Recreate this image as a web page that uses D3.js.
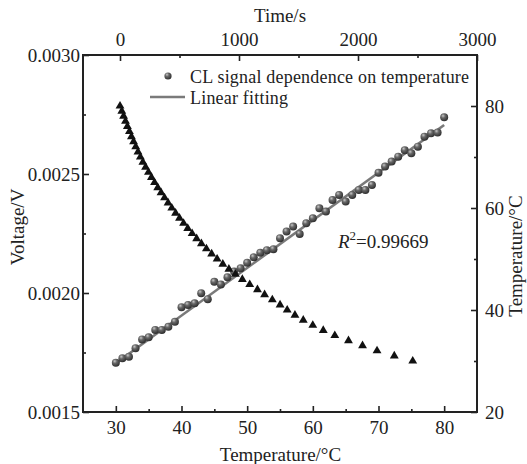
<!DOCTYPE html>
<html>
<head>
<meta charset="utf-8">
<script src="https://cdn.jsdelivr.net/npm/d3@7"></script>
<style>
  html, body { margin: 0; padding: 0; background: #fff; }
  svg text { font-family: "Liberation Serif", "Times New Roman", serif; fill: #222; }
</style>
</head>
<body>
<div id="chart"></div>
<script>
// ---- Data ----
// CL signal (Voltage, V) vs Temperature (°C)
const clTemp = [30,31,32,33,34,35,36,37,38,39,40,41,42,43,44,45,46,47,48,49,50,
                51,52,53,54,55,56,57,58,59,60,61,62,63,64,65,66,67,68,69,70,
                71,72,73,74,75,76,77,78,79,80];
const clVoltage = [0.001707,0.001726,0.001732,0.001768,0.001805,0.001814,0.001845,0.001845,0.001858,0.001879,
                   0.001940,0.001950,0.001957,0.001999,0.001974,0.002047,0.002036,0.002066,0.002090,0.002104,
                   0.002127,0.002150,0.002169,0.002180,0.002184,0.002230,0.002258,0.002279,0.002248,0.002293,
                   0.002314,0.002356,0.002342,0.002391,0.002412,0.002384,0.002412,0.002433,0.002433,0.002454,
                   0.002505,0.002531,0.002552,0.002573,0.002600,0.002587,0.002615,0.002657,0.002671,0.002674,
                   0.002738];
// Linear fitting endpoints
const fitTemp = [30, 80];
const fitVoltage = [0.001705, 0.002706];
// Cooling curve: Temperature (°C, right axis) vs Time (s, top axis)
const coolTemp = [80,79,78,77,76,75,74,73,72,71,70,69,68,67,66,65,64,63,62,61,60,
                  59,58,57,56,55,54,53,52,51,50,49,48,47,46,45,44,43,42,41,40,
                  39,38,37,36,35,34,33,32,31,30];
const coolTime = [0,15,30,46,62,79,96,114,132,151,171,192,215,239,264,290,317,345,374,404,435,
                  467,500,534,569,606,644,684,726,770,816,864,915,970,1028,1090,1155,1215,1280,1345,1405,
                  1470,1540,1620,1708,1805,1920,2038,2160,2305,2460];
// Ticks
const bottomTicks = [30,40,50,60,70,80];
const bottomMinor = [35,45,55,65,75];
const topTicks = [0,1000,2000,3000];
const topMinor = [500,1500,2500];
const leftTicks = [0.0015,0.0020,0.0025,0.0030];
const leftMinor = [0.00175,0.00225,0.00275];
const rightTicks = [20,40,60,80];
const rightMinor = [30,50,70];
const legendLabels = ["CL signal dependence on temperature", "Linear fitting"];

// ---- Layout ----
const W = 527, H = 464;
const L = 83, R = 477, T = 55, B = 412;

const svg = d3.select("#chart").append("svg").attr("width", W).attr("height", H);

const xT = d3.scaleLinear().domain([25, 85]).range([L, R]);
const xTime = d3.scaleLinear().domain([-311, 3000]).range([L, R]);
const yV = d3.scaleLinear().domain([0.0015, 0.0030]).range([B, T]);
const yR = d3.scaleLinear().domain([20, 90]).range([B, T]);

const defs = svg.append("defs");
const grad = defs.append("radialGradient").attr("id", "ball").attr("cx", "40%").attr("cy", "35%").attr("r", "65%").attr("fx", "35%").attr("fy", "30%");
grad.append("stop").attr("offset", "0%").attr("stop-color", "#c8c8c8");
grad.append("stop").attr("offset", "40%").attr("stop-color", "#686868");
grad.append("stop").attr("offset", "100%").attr("stop-color", "#2e2e2e");

const fs = 19;
const axisColor = "#222";

function styleAxis(g) {
  g.select(".domain").remove();
  g.selectAll(".tick line").attr("stroke", axisColor).attr("stroke-width", 1.6);
  g.selectAll(".tick text").style("font-size", fs + "px").attr("fill", "#222");
}

// Bottom axis (ticks inward)
const gB = svg.append("g").attr("transform", `translate(0,${B})`)
  .call(d3.axisBottom(xT).tickValues(bottomTicks).tickSize(-6).tickFormat(d3.format("d")));
styleAxis(gB);
gB.selectAll(".tick text").attr("y", 9).attr("dy", "0.71em");
svg.append("g").attr("transform", `translate(0,${B})`)
  .call(d3.axisBottom(xT).tickValues(bottomMinor).tickSize(-3).tickFormat(""))
  .call(styleAxis);

// Top axis (time)
const gTop = svg.append("g").attr("transform", `translate(0,${T})`)
  .call(d3.axisTop(xTime).tickValues(topTicks).tickSize(-6).tickFormat(d3.format("d")));
styleAxis(gTop);
gTop.selectAll(".tick text").attr("y", -9);
svg.append("g").attr("transform", `translate(0,${T})`)
  .call(d3.axisTop(xTime).tickValues(topMinor).tickSize(-3).tickFormat(""))
  .call(styleAxis);

// Left axis
const gL = svg.append("g").attr("transform", `translate(${L},0)`)
  .call(d3.axisLeft(yV).tickValues(leftTicks).tickSize(-6).tickFormat(d3.format(".4f")));
styleAxis(gL);
gL.selectAll(".tick text").attr("x", -3);
svg.append("g").attr("transform", `translate(${L},0)`)
  .call(d3.axisLeft(yV).tickValues(leftMinor).tickSize(-3).tickFormat(""))
  .call(styleAxis);

// Right axis
const gR = svg.append("g").attr("transform", `translate(${R},0)`)
  .call(d3.axisRight(yR).tickValues(rightTicks).tickSize(-6).tickFormat(d3.format("d")));
styleAxis(gR);
gR.selectAll(".tick text").attr("x", 8);
svg.append("g").attr("transform", `translate(${R},0)`)
  .call(d3.axisRight(yR).tickValues(rightMinor).tickSize(-3).tickFormat(""))
  .call(styleAxis);

// Frame
svg.append("rect").attr("x", L).attr("y", T).attr("width", R - L).attr("height", B - T)
  .attr("fill", "none").attr("stroke", axisColor).attr("stroke-width", 2);

// Axis titles
svg.append("text").attr("x", (L + R) / 2 + 0.5).attr("y", 461).attr("text-anchor", "middle")
  .style("font-size", fs + "px").text("Temperature/°C");
svg.append("text").attr("x", (L + R) / 2).attr("y", 22).attr("text-anchor", "middle")
  .style("font-size", fs + "px").text("Time/s");
svg.append("text").attr("transform", `translate(24,227) rotate(-90)`).attr("text-anchor", "middle")
  .style("font-size", fs + "px").text("Voltage/V");
svg.append("text").attr("transform", `translate(522,256) rotate(-90)`).attr("text-anchor", "middle")
  .style("font-size", fs + "px").text("Temperature/°C");

// Linear fit
svg.append("line")
  .attr("x1", xT(fitTemp[0])).attr("y1", yV(fitVoltage[0]))
  .attr("x2", xT(fitTemp[1])).attr("y2", yV(fitVoltage[1]))
  .attr("stroke", "#7a7a7a").attr("stroke-width", 2.6);

// CL circles
svg.append("g").selectAll("circle").data(clTemp.map((t, i) => [t, clVoltage[i]])).join("circle")
  .attr("cx", d => xT(d[0])).attr("cy", d => yV(d[1])).attr("r", 4)
  .attr("fill", "url(#ball)");

// Cooling triangles
const tri = d3.symbol().type(d3.symbolTriangle).size(34);
svg.append("g").selectAll("path").data(coolTime.map((t, i) => [t, coolTemp[i]])).join("path")
  .attr("transform", d => `translate(${xTime(d[0])},${yR(d[1])})`)
  .attr("d", tri).attr("fill", "#111");

// Legend
const lfs = 18;
svg.append("circle").attr("cx", 168).attr("cy", 76).attr("r", 3.6).attr("fill", "url(#ball)");
svg.append("text").attr("x", 190).attr("y", 83).style("font-size", lfs + "px").style("letter-spacing", "0.2px").text(legendLabels[0]);
svg.append("line").attr("x1", 150).attr("x2", 185).attr("y1", 97).attr("y2", 97)
  .attr("stroke", "#7a7a7a").attr("stroke-width", 2.6);
svg.append("text").attr("x", 190).attr("y", 104).style("font-size", lfs + "px").style("letter-spacing", "0.2px").text(legendLabels[1]);

// R^2 annotation
const r2 = svg.append("text").attr("x", 338).attr("y", 248).style("font-size", fs + "px");
r2.append("tspan").style("font-style", "italic").text("R");
r2.append("tspan").attr("dy", -8).style("font-size", "13px").text("2");
r2.append("tspan").attr("dy", 8).text("=0.99669");
</script>
</body>
</html>
